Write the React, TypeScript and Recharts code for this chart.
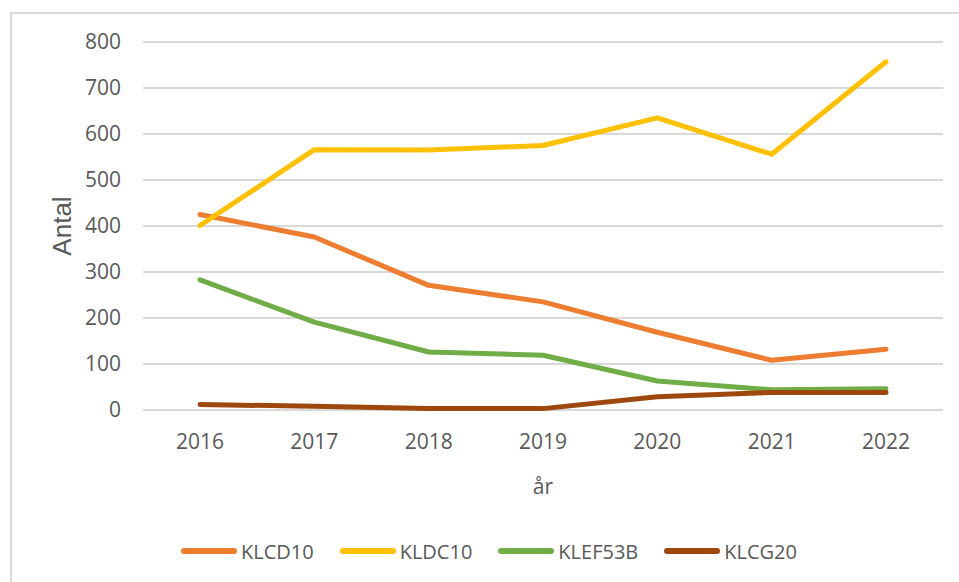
import React from 'react';
import { LineChart, Line, XAxis, YAxis, CartesianGrid, Legend } from 'recharts';

// Antal per år och kod
const years = ['2016', '2017', '2018', '2019', '2020', '2021', '2022'];
const klcd10 = [425, 376, 271, 235, 169, 108, 132];
const kldc10 = [401, 566, 565, 575, 635, 556, 757];
const klef53b = [283, 191, 126, 119, 63, 44, 46];
const klcg20 = [12, 8, 3, 3, 29, 38, 38];
const yTicks = [0, 100, 200, 300, 400, 500, 600, 700, 800];

const seriesList = [
  { key: 'KLCD10', values: klcd10, color: '#ED7D31' },
  { key: 'KLDC10', values: kldc10, color: '#FFC000' },
  { key: 'KLEF53B', values: klef53b, color: '#70AD47' },
  { key: 'KLCG20', values: klcg20, color: '#9E480E' },
];

const data = years.map((year, i) => {
  const row: Record<string, string | number> = { year };
  for (const s of seriesList) row[s.key] = s.values[i];
  return row;
});

const FONT = '"Open Sans", "Noto Sans", sans-serif';
const TEXT = '#595959';

const renderLegend = () => (
  <div
    style={{
      display: 'flex',
      alignItems: 'center',
      height: 30,
      paddingLeft: 181,
      fontFamily: FONT,
      fontSize: 20,
      color: TEXT,
    }}
  >
    {seriesList.map((s) => (
      <div key={s.key} style={{ display: 'flex', alignItems: 'center', marginRight: 26 }}>
        <span
          style={{
            display: 'inline-block',
            width: 56,
            height: 6,
            borderRadius: 3,
            background: s.color,
            marginRight: 4,
          }}
        />
        <span>{s.key}</span>
      </div>
    ))}
  </div>
);

const renderYLabel = (props: any) => {
  const vb = props.viewBox;
  const cx = vb.x + 62;
  const cy = vb.y + vb.height / 2;
  return (
    <text
      x={cx}
      y={cy}
      transform={`rotate(-90 ${cx} ${cy})`}
      textAnchor="middle"
      dominantBaseline="central"
      fill={TEXT}
      fontSize={26}
      fontFamily='"Liberation Sans", Arial, sans-serif'
    >
      Antal
    </text>
  );
};

export default function App() {
  return (
    <div
      style={{
        position: 'fixed',
        left: 0,
        top: 0,
        width: 959,
        height: 582,
        overflow: 'hidden',
        background: '#fff',
      }}
    >
      <div
        style={{
          position: 'absolute',
          left: 10,
          top: 12,
          width: 1000,
          height: 620,
          border: '2px solid #d9d9d9',
        }}
      />
      <div style={{ position: 'absolute', left: 0, top: 0 }}>
        <LineChart width={959} height={582} data={data} margin={{ top: 42, right: 16, left: 0, bottom: 16 }}>
          <CartesianGrid vertical={false} stroke="#d9d9d9" strokeWidth={2} />
          <XAxis
            dataKey="year"
            height={126}
            padding={{ left: 57, right: 57 }}
            axisLine={false}
            tickLine={false}
            tickSize={0}
            tickMargin={24}
            tick={{ fill: TEXT, fontSize: 21, fontFamily: FONT }}
            label={{ value: 'år', position: 'insideBottom', offset: 42, fill: TEXT, fontSize: 21, fontFamily: FONT }}
          />
          <YAxis
            width={143}
            domain={[0, 800]}
            ticks={yTicks}
            axisLine={false}
            tickLine={false}
            tickSize={0}
            tickMargin={22}
            tick={{ fill: TEXT, fontSize: 21, fontFamily: FONT }}
            label={{ content: renderYLabel }}
          />
          <Legend verticalAlign="bottom" content={renderLegend} wrapperStyle={{ left: 0, width: 959, height: 30 }} />
          {seriesList.map((s) => (
            <Line
              key={s.key}
              type="linear"
              dataKey={s.key}
              name={s.key}
              stroke={s.color}
              strokeWidth={5}
              strokeLinecap="round"
              strokeLinejoin="round"
              dot={false}
              activeDot={false}
              isAnimationActive={false}
            />
          ))}
        </LineChart>
      </div>
    </div>
  );
}
